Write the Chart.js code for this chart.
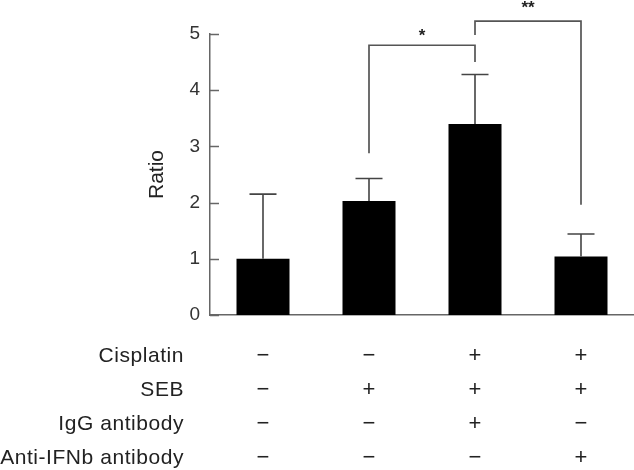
<!DOCTYPE html>
<html><head><meta charset="utf-8">
<script src="https://cdn.jsdelivr.net/npm/chart.js@4"></script>
<style>html,body{margin:0;padding:0;background:#fff}</style>
</head><body>
<canvas id="c" width="634" height="470"></canvas>
<script>
// ---- data ----
const rowLabels = ['Cisplatin', 'SEB', 'IgG antibody', 'Anti-IFNb antibody'];
const cisplatin = ['\u2212', '\u2212', '+', '+'];
const seb       = ['\u2212', '+', '+', '+'];
const igg       = ['\u2212', '\u2212', '+', '\u2212'];
const antiIFNb  = ['\u2212', '\u2212', '\u2212', '+'];
const ratio     = [1.00, 2.03, 3.40, 1.04];
const errorUp   = [1.15, 0.40, 0.88, 0.40];
const yTicks    = [0, 1, 2, 3, 4, 5];
// significance brackets: category indices and y values of leg ends / top bar
const bracketFrom  = [1, 2];
const bracketTo    = [2, 3];
const bracketLeft  = [2.88, 4.98];
const bracketTop   = [4.80, 5.23];
const bracketRight = [4.50, 1.96];
const bracketLabel = ['*', '**'];

const labels = ratio.map((_, i) => [cisplatin[i], seb[i], igg[i], antiIFNb[i]]);
const FONT = "'Liberation Sans', Arial, Helvetica, sans-serif";
const labelGap = [8.5, 12.5];

const extras = {
  id: 'extras',
  afterDatasetsDraw(chart) {
    const ctx = chart.ctx;
    const xs = chart.scales.x, ys = chart.scales.y;
    const area = chart.chartArea;
    ctx.save();
    // inward y ticks
    ctx.strokeStyle = '#666'; ctx.lineWidth = 1.5;
    ys.ticks.forEach(t => {
      const y = Math.round(ys.getPixelForValue(t.value)) + 0.5;
      ctx.beginPath(); ctx.moveTo(area.left, y); ctx.lineTo(area.left + 9, y); ctx.stroke();
    });
    // error bars
    ctx.strokeStyle = '#444'; ctx.lineWidth = 1.6;
    ratio.forEach((v, i) => {
      const x = xs.getPixelForValue(i);
      const y0 = ys.getPixelForValue(v);
      const y1 = ys.getPixelForValue(v + errorUp[i]);
      ctx.beginPath(); ctx.moveTo(x, y0); ctx.lineTo(x, y1);
      ctx.moveTo(x - 13.5, y1); ctx.lineTo(x + 13.5, y1); ctx.stroke();
    });
    // brackets
    ctx.strokeStyle = '#555'; ctx.lineWidth = 1.7;
    ctx.fillStyle = '#222';
    ctx.font = 'bold 17px ' + FONT;
    ctx.textAlign = 'center'; ctx.textBaseline = 'middle';
    bracketFrom.forEach((f, k) => {
      const x1 = xs.getPixelForValue(f), x2 = xs.getPixelForValue(bracketTo[k]);
      const yl = ys.getPixelForValue(bracketLeft[k]);
      const yt = ys.getPixelForValue(bracketTop[k]);
      const yr = ys.getPixelForValue(bracketRight[k]);
      ctx.beginPath();
      ctx.moveTo(x1, yl); ctx.lineTo(x1, yt); ctx.lineTo(x2, yt); ctx.lineTo(x2, yr);
      ctx.stroke();
      ctx.fillText(bracketLabel[k], (x1 + x2) / 2, yt - labelGap[k]);
    });
    // row labels of the treatment table
    ctx.fillStyle = '#222';
    ctx.font = '21px ' + FONT;
    try { ctx.letterSpacing = '0.55px'; } catch (e) {}
    ctx.textAlign = 'right'; ctx.textBaseline = 'middle';
    const pad = xs.options.ticks.padding;
    const lh = 34;
    rowLabels.forEach((t, i) => {
      ctx.fillText(t, area.left - 26, xs.top + pad + lh * (i + 0.5));
    });
    ctx.restore();
  }
};

new Chart(document.getElementById('c'), {
  type: 'bar',
  data: {
    labels: labels,
    datasets: [{
      data: ratio,
      backgroundColor: '#000',
      borderWidth: 0,
      barPercentage: 0.5,
      categoryPercentage: 1.0
    }]
  },
  options: {
    responsive: false,
    animation: false,
    devicePixelRatio: 1,
    layout: { padding: { left: 145, top: 34, right: 0, bottom: 0 } },
    plugins: { legend: { display: false }, tooltip: { enabled: false } },
    scales: {
      x: {
        grid: { display: false, drawTicks: false },
        border: { display: true, color: '#666', width: 1.5 },
        ticks: {
          color: '#222', padding: 24, autoSkip: false, maxRotation: 0,
          font: { family: FONT, size: 22, lineHeight: '34px' }
        },
        afterFit(s) { s.height = 155; }
      },
      y: {
        min: 0, max: 5,
        afterBuildTicks(s) { s.ticks = yTicks.map(v => ({ value: v })); },
        grid: { display: false, drawTicks: false },
        border: { display: true, color: '#666', width: 1.5 },
        ticks: { color: '#333', padding: 10, font: { family: FONT, size: 19 } },
        title: { display: true, text: 'Ratio', color: '#222', padding: 0, font: { family: FONT, size: 21 } },
        afterFit(s) { s.width = 65; }
      }
    }
  },
  plugins: [extras]
});
</script>
</body></html>
